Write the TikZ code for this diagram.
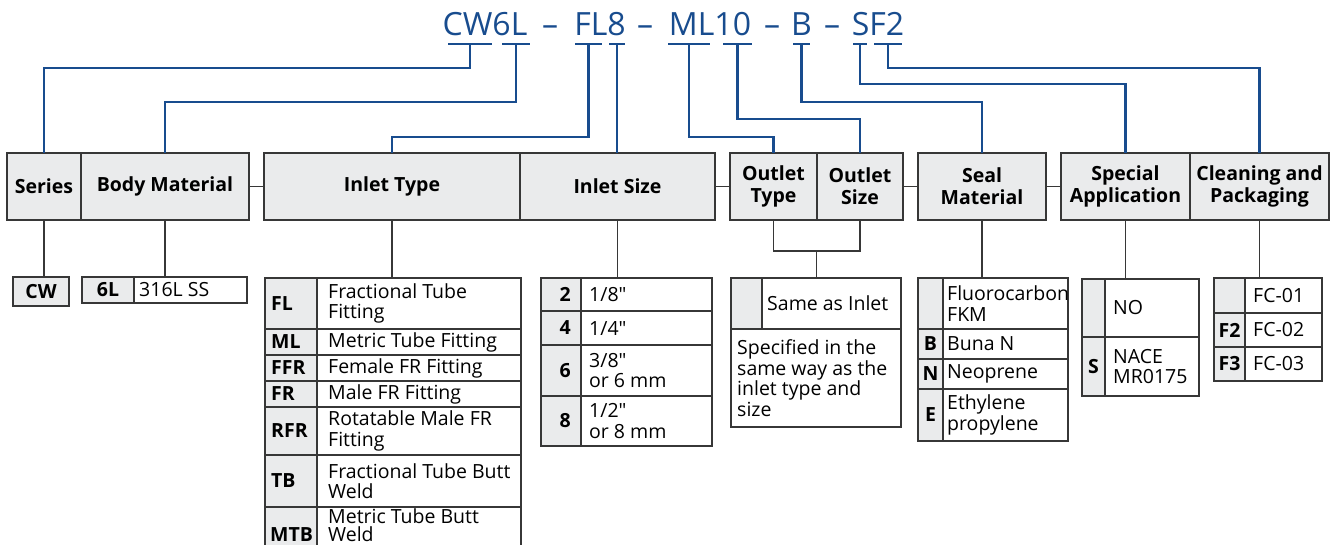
\documentclass[tikz,border=0pt]{standalone}
\usepackage{fontspec}
\setmainfont{Open Sans}[Ligatures=TeXOff]
\usetikzlibrary{calc}

\definecolor{codeblue}{RGB}{24,76,142}
\definecolor{boxgray}{RGB}{234,235,236}
\definecolor{linegray}{RGB}{55,55,55}

\newcommand{\cellfont}{\fontsize{19.5}{20.5}\selectfont}
\newcommand{\headfont}{\fontsize{19.5}{22}\selectfont\bfseries}

\tikzset{
  box/.style={draw=linegray, line width=1.6pt, anchor=north west, inner sep=0pt, outer sep=0pt, font=\cellfont\bfseries},
  graybox/.style={box, fill=boxgray},
  whitebox/.style={box, fill=white},
  txt/.style={anchor=west, inner sep=0pt, align=left, font=\cellfont},
  codetxt/.style={txt, font=\cellfont\bfseries},
  head/.style={graybox, font=\headfont, align=center, minimum height=67pt},
  link/.style={draw=linegray, line width=1.4pt},
  codeline/.style={draw=codeblue, line width=2.6pt},
  title/.style={text=codeblue, font=\fontsize{32}{32}\selectfont, anchor=base, inner sep=0pt},
}

\begin{document}
\begin{tikzpicture}[x=1pt, y=-1pt]
    \useasboundingbox (0,0) rectangle (1331,544);

    % the order code
    \foreach \x/\txt/\id in {485/CW6L/tcw, 550/\textendash/d1, 600/FL8/tfl, 645/\textendash/d2, 710/ML10/tml, 772/\textendash/d3, 801.5/B/tb, 832/\textendash/d4, 878/SF2/tsf}
        \node[title] (\id) at (\x,35) {\txt};

    % bars under the code
    \foreach \l/\r/\id in {448/492/bcw, 502/530/bsl, 575/602/bfl, 609/625/bsz, 668/710/bml, 723/752/bten, 793/810/bb, 853/867/bs, 874/902/bf}
       {\draw[codeline] (\l,44) -- (\r,44);
        \coordinate (\id) at ({(\l+\r)/2},44);}

    % header boxes
    \foreach \x/\w/\name/\id in {7/74/Series/series, 81/168/Body Material/body, 264/256/Inlet Type/intype, 520/195/Inlet Size/insize, 730/87/{Outlet\\Type}/outtype, 817/86/{Outlet\\Size}/outsize, 918/128/{Seal\\Material}/seal, 1061/129/{Special\\Application}/special, 1190/139/{Cleaning and\\Packaging}/clean}
        \node[head, minimum width=\w pt] (\id) at (\x,153) {\name};

    \draw[link] (body.east) -- (intype.west);
    \draw[link] (insize.east) -- (outtype.west);
    \draw[link] (outsize.east) -- (seal.west);
    \draw[link] (seal.east) -- (special.west);

    % code to header
    \draw[codeline] (bcw) -- ++(0,24) -| (series.north);
    \draw[codeline] (bsl) -- ++(0,58) -| (body.north);
    \draw[codeline] (bfl) -- ++(0,93) -| (intype.north);
    \draw[codeline] (bsz) -- (bsz |- insize.north);
    \draw[codeline] (bml) -- ++(0,93) -| (outtype.north);
    \draw[codeline] (bten) -- ++(0,75) -| (outsize.north);
    \draw[codeline] (bb) -- ++(0,58) -| (seal.north);
    \draw[codeline] (bs) -- ++(0,40) -| (special.north);
    \draw[codeline] (bf) -- ++(0,24) -| (clean.north);

    % series, body
    \node[graybox, minimum width=56pt, minimum height=29pt] (cw) at (13,277) {CW};
    \node[graybox, minimum width=52pt, minimum height=26pt] (csl) at (82,277) {6L};
    \node[whitebox, minimum width=113pt, minimum height=26pt] (sl) at (134,277) {};
    \node[txt] (tsl) at ([xshift=5pt]sl.west) {316L SS};

    % inlet type
    \foreach \t/\b/\code/\txt/\id in {278/329/FL/{Fractional Tube\\Fitting}/fl, 329/355/ML/{Metric Tube Fitting}/ml, 355/381/FFR/{Female FR Fitting}/ffr, 381/407/FR/{Male FR Fitting}/fr, 407/455/RFR/{Rotatable Male FR\\Fitting}/rfr, 455/507/TB/{Fractional Tube Butt\\Weld}/tbw}
       {\pgfmathsetmacro\h{\b-\t}
        \node[graybox, minimum width=52pt, minimum height=\h pt] (c\id) at (265,\t) {};
        \node[codetxt] (tc\id) at ([xshift=6pt]c\id.west) {\code};
        \node[whitebox, minimum width=204pt, minimum height=\h pt] (\id) at (317,\t) {};
        \node[txt] (t\id) at ([xshift=11pt]\id.west) {\txt};}
    % last row runs off the page
    \node[graybox, minimum width=52pt, minimum height=52pt] (cmtb) at (265,507) {};
    \node[codetxt] (tcmtb) at ([xshift=5pt,yshift=-2pt]cmtb.west) {MTB};
    \node[whitebox, minimum width=204pt, minimum height=52pt] (mtb) at (317,507) {};
    \node[txt, anchor=north west, font=\fontsize{19.5}{18}\selectfont] (tmtb) at ([xshift=11pt,yshift=-1pt]mtb.north west) {Metric Tube Butt\\Weld};

    % inlet size
    \foreach \t/\b/\code/\txt/\id in {278/311/2/{1/8"}/s2, 311/345/4/{1/4"}/s4, 345/396/6/{3/8"\\or 6 mm}/s6, 396/446/8/{1/2"\\or 8 mm}/s8}
       {\pgfmathsetmacro\h{\b-\t}
        \node[graybox, minimum width=40pt, minimum height=\h pt] (c\id) at (541,\t) {};
        \node[codetxt, anchor=east] (tc\id) at ([xshift=-10pt]c\id.east) {\code};
        \node[whitebox, minimum width=131pt, minimum height=\h pt] (\id) at (581,\t) {};
        \node[txt] (t\id) at ([xshift=8pt]\id.west) {\txt};}

    % outlet
    \node[graybox, minimum width=31pt, minimum height=51pt] (csame) at (731,278) {};
    \node[whitebox, minimum width=139pt, minimum height=51pt] (same) at (762,278) {};
    \node[txt] (tsame) at ([xshift=5pt]same.west) {Same as Inlet};
    \node[whitebox, minimum width=170pt, minimum height=98pt] (spec) at (731,329) {};
    \node[txt] (tspec) at ([xshift=6pt]spec.west) {Specified in the\\same way as the\\inlet type and\\size};

    % seal
    \foreach \t/\b/\code/\txt/\id in {278/329/{}/{Fluorocarbon\\FKM}/fkm, 329/359/B/{Buna N}/buna, 359/389/N/{Neoprene}/neo, 389/441/E/{Ethylene\\propylene}/epdm}
       {\pgfmathsetmacro\h{\b-\t}
        \node[graybox, minimum width=25pt, minimum height=\h pt] (c\id) at (918,\t) {\code};
        \node[whitebox, minimum width=125pt, minimum height=\h pt] (\id) at (943,\t) {};
        \node[txt] (t\id) at ([xshift=4pt]\id.west) {\txt};}

    % special application
    \foreach \t/\b/\code/\txt/\id in {279/337/{}/{NO}/no, 337/396/S/{NACE\\MR0175}/nace}
       {\pgfmathsetmacro\h{\b-\t}
        \node[graybox, minimum width=23pt, minimum height=\h pt] (c\id) at (1082,\t) {\code};
        \node[whitebox, minimum width=94pt, minimum height=\h pt] (\id) at (1105,\t) {};
        \node[txt] (t\id) at ([xshift=8pt]\id.west) {\txt};}

    % cleaning
    \foreach \t/\b/\code/\txt/\id in {278/313/{}/{FC-01}/fc1, 313/347/F2/{FC-02}/fc2, 347/381/F3/{FC-03}/fc3}
       {\pgfmathsetmacro\h{\b-\t}
        \node[graybox, minimum width=31pt, minimum height=\h pt] (c\id) at (1214,\t) {\code};
        \node[whitebox, minimum width=77pt, minimum height=\h pt] (\id) at (1245,\t) {};
        \node[txt] (t\id) at ([xshift=8pt]\id.west) {\txt};}

    % header to tables
    \draw[link] (series.south) -- (series.south |- cw.north);
    \draw[link] (body.south) -- (body.south |- sl.north);
    \draw[link] (intype.south) -- (intype.south |- fl.north);
    \draw[link] (insize.south) -- (insize.south |- s2.north);
    \draw[link] (outtype.south) -- ++(0,31) -| (outsize.south);
    \coordinate (omid) at ($(outtype.south)!.5!(outsize.south)+(0,31)$);
    \draw[link] (omid) -- (omid |- same.north);
    \draw[link] (seal.south) -- (seal.south |- fkm.north);
    \draw[link] (special.south) -- (special.south |- no.north);
    \draw[link] (clean.south) -- (clean.south |- fc1.north);

\end{tikzpicture}
\end{document}
